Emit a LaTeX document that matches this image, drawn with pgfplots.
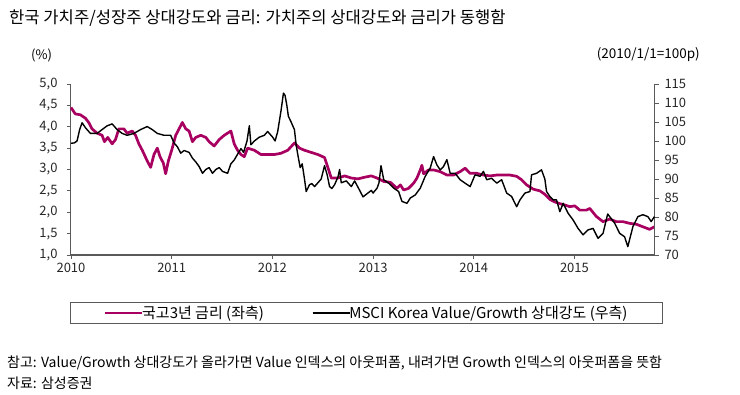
\documentclass[border=0pt]{standalone}
\usepackage{pgfplots}
\pgfplotsset{compat=1.18}
\usepackage{fontspec}
\setmainfont{Noto Sans CJK KR}
\definecolor{mag}{RGB}{168,0,96}
\definecolor{axgray}{RGB}{90,90,90}

\begin{document}
\begin{tikzpicture}
\useasboundingbox (0pt,0pt) rectangle (740pt,395pt);
\node[anchor=west, inner sep=0, font=\fontsize{16.6}{19}\selectfont] at (9pt,377pt) {한국 가치주/성장주 상대강도와 금리: 가치주의 상대강도와 금리가 동행함};
\node[anchor=west, inner sep=0, font=\fontsize{13}{15}\selectfont] at (31pt,340pt) {(\%)};
\node[anchor=east, inner sep=0, font=\fontsize{13.5}{15}\selectfont] at (700pt,340pt) {(2010/1/1=100p)};
\node[anchor=west, inner sep=0, font=\fontsize{14}{16}\selectfont] at (7pt,32pt) {참고: Value/Growth 상대강도가 올라가면 Value 인덱스의 아웃퍼폼, 내려가면 Growth 인덱스의 아웃퍼폼을 뜻함};
\node[anchor=west, inner sep=0, font=\fontsize{14}{16}\selectfont] at (7pt,12pt) {자료: 삼성증권};

\begin{axis}[
  at={(71pt,140pt)}, anchor=south west,
  width=584pt, height=171pt, scale only axis,
  xmin=2010, xmax=2015.8, ymin=1, ymax=5,
  axis x line*=bottom, axis y line*=left,
  xtick={2010,2011,2012,2013,2014,2015},
  ytick={1,1.5,2,2.5,3,3.5,4,4.5,5},
  tick align=outside, major tick length=4pt,
  tick style={axgray, line width=0.8pt},
  axis line style={axgray, line width=1pt},
  x axis line style={line width=1.6pt},
  /pgf/number format/assume math mode=true,
  ticklabel style={font=\fontsize{13}{15}\selectfont, text=black!85},
  xticklabel style={yshift=-1pt, /pgf/number format/1000 sep={}},
  yticklabel style={xshift=-6pt, /pgf/number format/.cd, fixed, fixed zerofill, precision=1, use comma},
  clip=false,
]
\addplot[mag, line width=2.7pt, line join=round] coordinates {
(2010.000,4.45) (2010.043,4.30) (2010.093,4.28) (2010.143,4.20) (2010.176,4.10)
(2010.209,3.95) (2010.259,3.85) (2010.309,3.80) (2010.332,3.65) (2010.365,3.75)
(2010.409,3.60) (2010.442,3.70) (2010.475,3.95) (2010.525,3.95) (2010.558,3.85)
(2010.608,3.90) (2010.641,3.80) (2010.674,3.60) (2010.708,3.45) (2010.757,3.20)
(2010.791,3.05) (2010.824,3.35) (2010.857,3.50) (2010.884,3.30) (2010.917,3.15)
(2010.940,2.90) (2010.967,3.20) (2011.000,3.45) (2011.040,3.80) (2011.073,3.95)
(2011.106,4.10) (2011.140,3.95) (2011.173,3.90) (2011.206,3.65) (2011.239,3.75)
(2011.289,3.80) (2011.339,3.75) (2011.372,3.65) (2011.422,3.55) (2011.472,3.70)
(2011.522,3.80) (2011.555,3.85) (2011.588,3.90) (2011.621,3.60) (2011.654,3.45)
(2011.688,3.35) (2011.721,3.30) (2011.754,3.50) (2011.821,3.45) (2011.887,3.35)
(2011.953,3.35) (2012.020,3.35) (2012.086,3.38) (2012.153,3.45) (2012.219,3.62)
(2012.269,3.50) (2012.319,3.45) (2012.385,3.40) (2012.452,3.35) (2012.518,3.28)
(2012.551,3.05) (2012.585,2.80) (2012.651,2.80) (2012.718,2.85) (2012.784,2.80)
(2012.850,2.78) (2012.917,2.82) (2012.983,2.85) (2013.040,2.80) (2013.106,2.72)
(2013.172,2.70) (2013.238,2.56) (2013.271,2.64) (2013.304,2.52) (2013.353,2.56)
(2013.403,2.68) (2013.436,2.80) (2013.469,2.99) (2013.485,3.10) (2013.502,2.90)
(2013.551,2.99) (2013.601,2.99) (2013.667,2.95) (2013.733,2.87) (2013.799,2.87)
(2013.865,2.95) (2013.914,3.03) (2013.964,2.91) (2014.030,2.91) (2014.096,2.87)
(2014.162,2.85) (2014.228,2.87) (2014.294,2.87) (2014.360,2.87) (2014.426,2.84)
(2014.475,2.76) (2014.525,2.64) (2014.591,2.54) (2014.657,2.50) (2014.706,2.42)
(2014.756,2.30) (2014.805,2.24) (2014.855,2.20) (2014.904,2.17) (2014.954,2.13)
(2015.003,2.15) (2015.053,2.05) (2015.119,2.05) (2015.152,2.09) (2015.218,1.90)
(2015.284,1.78) (2015.350,1.84) (2015.416,1.78) (2015.482,1.78) (2015.548,1.74)
(2015.614,1.72) (2015.680,1.66) (2015.746,1.60) (2015.795,1.66)
};
\end{axis}

\begin{axis}[
  at={(71pt,140pt)}, anchor=south west,
  width=584pt, height=171pt, scale only axis,
  xmin=2010, xmax=2015.8, ymin=70, ymax=115,
  axis x line=none, axis y line*=right,
  ytick={70,75,80,85,90,95,100,105,110,115},
  tick align=outside, major tick length=4pt,
  tick style={axgray, line width=0.8pt},
  axis line style={axgray, line width=1pt},
  /pgf/number format/assume math mode=true,
  ticklabel style={font=\fontsize{13}{15}\selectfont, text=black!85},
  yticklabel style={xshift=2pt},
  legend columns=2,
  legend cell align=left,
  legend image code/.code={\draw[#1] (0pt,0pt) -- (37pt,0pt);},
  legend style={at={(0.506,-0.339)}, anchor=center, draw=axgray, line width=0.9pt,
    font=\fontsize{15}{17}\selectfont, inner xsep=33pt, inner ysep=2pt,
    /tikz/every even column/.append style={column sep=46pt},
    /tikz/every odd column/.append style={column sep=-3pt}},
]
\addlegendimage{mag, line width=2.7pt}
\addlegendentry{국고3년 금리 (좌측)}
\addplot[black, line width=1.4pt, line join=round] coordinates {
(2010.000,99.4) (2010.033,99.5) (2010.060,100.0) (2010.086,103.0) (2010.110,104.8)
(2010.143,103.5) (2010.193,102.0) (2010.259,102.0) (2010.309,103.0) (2010.359,104.0)
(2010.409,104.5) (2010.458,103.0) (2010.508,102.0) (2010.558,101.5) (2010.625,102.0)
(2010.691,103.0) (2010.757,103.8) (2010.807,103.0) (2010.857,102.0) (2010.924,101.5)
(2010.990,101.5) (2011.023,99.5) (2011.056,98.5) (2011.090,96.8) (2011.123,97.5)
(2011.173,97.0) (2011.206,95.5) (2011.239,94.5) (2011.272,93.3) (2011.306,91.5)
(2011.339,92.5) (2011.372,93.0) (2011.405,91.5) (2011.439,92.5) (2011.472,93.0)
(2011.505,92.0) (2011.555,91.5) (2011.588,94.0) (2011.621,95.0) (2011.654,96.5)
(2011.688,98.0) (2011.714,97.0) (2011.748,100.0) (2011.771,104.0) (2011.787,99.0)
(2011.821,100.0) (2011.870,101.0) (2011.920,101.5) (2011.953,102.5) (2012.003,101.0)
(2012.027,100.0) (2012.053,102.5) (2012.086,108.0) (2012.110,112.6) (2012.126,112.0)
(2012.143,109.5) (2012.159,106.5) (2012.186,105.0) (2012.219,103.0) (2012.236,99.0)
(2012.252,96.5) (2012.276,93.0) (2012.296,94.0) (2012.319,90.0) (2012.336,86.7)
(2012.369,88.5) (2012.392,88.8) (2012.419,88.0) (2012.452,89.0) (2012.485,90.0)
(2012.518,93.5) (2012.545,91.0) (2012.568,88.0) (2012.591,87.5) (2012.618,88.5)
(2012.651,90.5) (2012.668,92.5) (2012.684,89.0) (2012.734,89.5) (2012.784,88.0)
(2012.817,89.5) (2012.867,87.0) (2012.900,85.3) (2012.934,86.0) (2012.983,87.0)
(2013.000,86.3) (2013.040,87.6) (2013.059,89.0) (2013.079,93.5) (2013.106,89.8)
(2013.155,88.9) (2013.205,87.6) (2013.254,86.7) (2013.287,84.1) (2013.337,83.6)
(2013.370,85.0) (2013.419,85.8) (2013.469,87.6) (2013.518,90.7) (2013.568,92.9)
(2013.601,95.9) (2013.634,93.7) (2013.667,92.4) (2013.700,93.3) (2013.733,95.1)
(2013.766,91.5) (2013.815,91.5) (2013.865,89.8) (2013.914,88.9) (2013.964,88.0)
(2014.013,91.1) (2014.063,90.7) (2014.096,92.0) (2014.129,89.8) (2014.178,90.2)
(2014.228,88.9) (2014.277,89.8) (2014.327,86.3) (2014.376,85.4) (2014.426,82.7)
(2014.459,84.5) (2014.508,86.3) (2014.558,86.7) (2014.574,91.1) (2014.624,91.5)
(2014.673,92.4) (2014.706,90.0) (2014.723,86.7) (2014.756,85.4) (2014.789,84.5)
(2014.822,84.5) (2014.855,81.4) (2014.888,83.6) (2014.937,81.0) (2014.987,79.2)
(2015.036,77.0) (2015.086,75.3) (2015.135,76.6) (2015.185,77.0) (2015.234,74.4)
(2015.284,75.7) (2015.330,80.8) (2015.399,78.4) (2015.449,75.7) (2015.498,74.8)
(2015.530,72.2) (2015.581,77.5) (2015.630,80.1) (2015.680,80.6) (2015.729,80.1)
(2015.762,78.8) (2015.795,80.1)
};
\addlegendentry{MSCI Korea Value/Growth 상대강도 (우측)}
\end{axis}
\end{tikzpicture}
\end{document}
